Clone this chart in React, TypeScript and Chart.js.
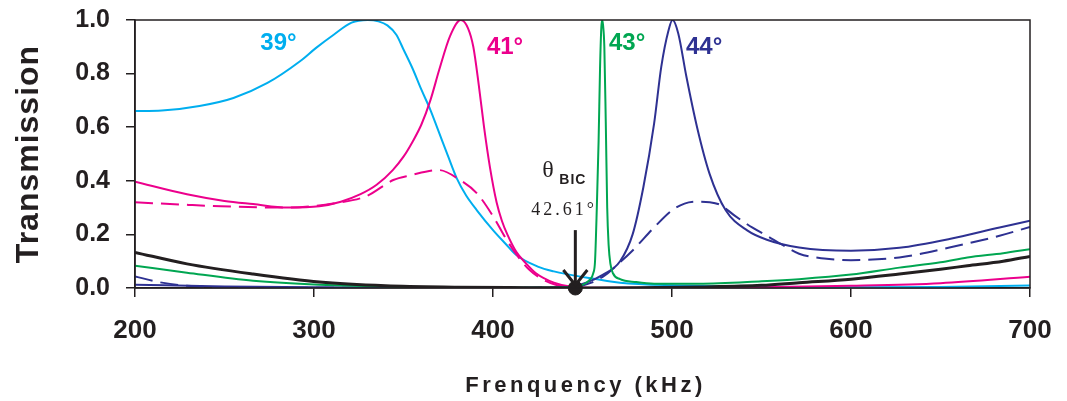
import React, { useEffect, useRef } from 'react';
import { Chart, registerables } from 'chart.js';

Chart.register(...registerables);

// ---- Data (frequency in kHz, transmission) ----
const FREQ_39 = [200, 215, 236, 255, 274, 292, 301, 311, 321, 330, 336, 341, 346, 350, 355, 360, 365, 369.3, 375, 379.7, 385, 391, 400, 407, 413, 425, 434, 452, 471, 500, 550, 600, 650, 700];
const T_39 = [0.66, 0.662, 0.679, 0.709, 0.765, 0.845, 0.895, 0.945, 0.99, 1.0, 0.995, 0.98, 0.945, 0.89, 0.82, 0.74, 0.665, 0.59, 0.49, 0.41, 0.345, 0.29, 0.216, 0.165, 0.123, 0.08, 0.062, 0.039, 0.02, 0.01, 0.005, 0.003, 0.004, 0.009];

const FREQ_41 = [200, 229, 250, 266, 285, 303, 315, 326, 335, 344, 350, 355, 360, 365, 370, 376, 382, 386, 389, 392, 395, 398.3, 402, 405, 408, 413, 418, 424, 434, 443, 460, 500, 550, 600, 650, 700];
const T_41 = [0.397, 0.35, 0.325, 0.313, 0.3, 0.305, 0.322, 0.35, 0.385, 0.44, 0.49, 0.545, 0.61, 0.7, 0.815, 0.94, 1.0, 0.97, 0.9, 0.76, 0.6, 0.45, 0.32, 0.25, 0.2, 0.135, 0.095, 0.055, 0.02, 0.006, 0.001, 0.001, 0.003, 0.008, 0.018, 0.042];

const FREQ_41_DASH = [200, 230, 248, 285, 313, 329.4, 344.3, 353.6, 369.8, 381.6, 390.9, 400.2, 407.7, 414, 420, 427, 435, 445];
const T_41_DASH = [0.32, 0.31, 0.305, 0.3, 0.318, 0.343, 0.403, 0.42, 0.44, 0.403, 0.354, 0.266, 0.179, 0.117, 0.07, 0.035, 0.012, 0.003];

const FREQ_43 = [200, 229, 266, 303, 350, 400, 440, 450, 454, 456, 457, 458, 459, 459.8, 460.5, 461, 461.5, 462.2, 463, 463.8, 464.6, 465.6, 467, 471, 480, 490, 515, 550, 571, 600, 627, 650, 665, 685, 700];
const T_43 = [0.083, 0.057, 0.027, 0.012, 0.004, 0.001, 0.002, 0.012, 0.03, 0.055, 0.1, 0.3, 0.55, 0.82, 0.97, 1.0, 0.98, 0.9, 0.62, 0.3, 0.16, 0.09, 0.055, 0.033, 0.022, 0.016, 0.016, 0.025, 0.033, 0.05, 0.076, 0.096, 0.114, 0.13, 0.145];

const FREQ_44 = [200, 250, 300, 350, 400, 440, 452, 461.5, 471, 478, 484, 490, 494, 498, 500.3, 503.5, 508, 514, 521, 530, 542, 553, 571, 600, 627, 655, 683, 700];
const T_44 = [0.012, 0.006, 0.003, 0.002, 0.001, 0.003, 0.02, 0.05, 0.1, 0.2, 0.376, 0.613, 0.825, 0.96, 1.0, 0.95, 0.79, 0.6, 0.426, 0.29, 0.215, 0.18, 0.151, 0.139, 0.15, 0.183, 0.226, 0.251];

const FREQ_44_DASH = [200, 215, 229, 260, 300, 400, 445, 455, 463, 470, 478, 490, 500, 507, 514, 521, 527, 535, 545, 553, 562, 571, 585, 600, 627, 655, 683, 700];
const T_44_DASH = [0.043, 0.02, 0.008, 0.002, 0.001, 0.001, 0.004, 0.02, 0.05, 0.09, 0.14, 0.226, 0.29, 0.315, 0.322, 0.32, 0.31, 0.27, 0.225, 0.195, 0.16, 0.128, 0.11, 0.104, 0.114, 0.151, 0.195, 0.228];

const FREQ_BIC_CURVE = [200, 229, 266, 303, 340, 380, 420, 446, 480, 515, 550, 571, 600, 627, 650, 665, 685, 700];
const T_BIC_CURVE = [0.133, 0.09, 0.052, 0.022, 0.008, 0.003, 0.001, 0.0, 0.001, 0.004, 0.01, 0.02, 0.033, 0.052, 0.07, 0.083, 0.1, 0.118];

const BIC_FREQ = [446];
const BIC_T = [0];

const ANGLE_TEXT = ['39°', '41°', '43°', '44°'];
const ANGLE_FREQ = [270, 396.6, 464.8, 507.8];
const ANGLE_T = [0.912, 0.899, 0.912, 0.899];

const X_MIN = 200, X_MAX = 700, X_STEP = 100;
const Y_MIN = 0, Y_MAX = 1.0, Y_STEP = 0.2;

const CYAN = '#00AEEF';
const MAGENTA = '#EC008C';
const GREEN = '#00A651';
const NAVY = '#2E3192';
const BLACK = '#231F20';

const SANS = "'Liberation Sans', Arial, Helvetica, sans-serif";
const SERIF = "'Liberation Serif', 'Times New Roman', serif";

const pts = (xs: number[], ys: number[]) => xs.map((x, i) => ({ x, y: ys[i] }));

const line = (label: string, xs: number[], ys: number[], color: string, width: number, dash: number[] = []) => ({
  label,
  data: pts(xs, ys),
  borderColor: color,
  backgroundColor: color,
  borderWidth: width,
  borderDash: dash,
  pointRadius: 0,
  fill: false,
  cubicInterpolationMode: 'monotone' as const,
});

const decorPlugin = {
  id: 'decor',
  afterDatasetsDraw(chart: any) {
    const { ctx, chartArea: a, scales } = chart;
    const xs = scales.x, ys = scales.y;
    ctx.save();
    ctx.strokeStyle = BLACK;
    ctx.lineWidth = 1.5;
    ctx.strokeRect(a.left, a.top, a.right - a.left, a.bottom - a.top);

    ctx.font = `bold 24px ${SANS}`;
    ctx.textAlign = 'left';
    ctx.textBaseline = 'middle';
    const colors = [CYAN, MAGENTA, GREEN, NAVY];
    ANGLE_TEXT.forEach((t, i) => {
      ctx.fillStyle = colors[i];
      ctx.fillText(t, xs.getPixelForValue(ANGLE_FREQ[i]), ys.getPixelForValue(ANGLE_T[i]));
    });

    const bx = xs.getPixelForValue(BIC_FREQ[0]);
    ctx.fillStyle = BLACK;
    ctx.textBaseline = 'alphabetic';
    ctx.font = `24px ${SERIF}`;
    ctx.fillText('θ', bx - 33, ys.getPixelForValue(0.414));
    ctx.font = `bold 14px ${SANS}`;
    (ctx as any).letterSpacing = '1px';
    ctx.fillText('BIC', bx - 16, ys.getPixelForValue(0.388));
    ctx.font = `18px ${SERIF}`;
    (ctx as any).letterSpacing = '3px';
    ctx.fillText('42.61°', bx - 44, ys.getPixelForValue(0.272));
    (ctx as any).letterSpacing = '0px';

    const yTop = ys.getPixelForValue(0.216);
    const yTip = ys.getPixelForValue(0.011);
    ctx.strokeStyle = BLACK;
    ctx.lineWidth = 3;
    ctx.beginPath();
    ctx.moveTo(bx, yTop);
    ctx.lineTo(bx, yTip);
    ctx.stroke();
    ctx.beginPath();
    ctx.moveTo(bx - 12, yTip - 15);
    ctx.lineTo(bx, yTip);
    ctx.lineTo(bx + 12, yTip - 15);
    ctx.stroke();
    ctx.restore();
  },
  afterDraw(chart: any) {
    const { ctx, chartArea: a } = chart;
    ctx.save();
    ctx.fillStyle = BLACK;
    ctx.translate(29, (a.top + a.bottom) / 2);
    ctx.rotate(-Math.PI / 2);
    ctx.font = `bold 32px ${SANS}`;
    (ctx as any).letterSpacing = '1px';
    ctx.textAlign = 'center';
    ctx.textBaseline = 'middle';
    ctx.fillText('Transmission', 0, 0);
    ctx.restore();
    ctx.save();
    ctx.fillStyle = BLACK;
    ctx.font = `bold 22px ${SANS}`;
    (ctx as any).letterSpacing = '3.5px';
    ctx.textAlign = 'center';
    ctx.textBaseline = 'alphabetic';
    ctx.fillText('Frenquency (kHz)', (a.left + a.right) / 2 + 3, 392);
    ctx.restore();
  },
};

export default function App() {
  const ref = useRef<HTMLCanvasElement | null>(null);
  useEffect(() => {
    document.body.style.margin = '0';
    const canvas = ref.current;
    if (!canvas) return;
    const chart = new Chart(canvas, {
      type: 'line',
      data: {
        datasets: [
          {
            type: 'scatter',
            label: 'BIC',
            data: pts(BIC_FREQ, BIC_T),
            pointRadius: 7,
            pointBackgroundColor: BLACK,
            pointBorderColor: BLACK,
            clip: false,
          } as any,
          line('BIC curve', FREQ_BIC_CURVE, T_BIC_CURVE, BLACK, 3),
          line('43°', FREQ_43, T_43, GREEN, 2),
          line('44°', FREQ_44, T_44, NAVY, 2),
          line('44° dashed', FREQ_44_DASH, T_44_DASH, NAVY, 2, [18, 8]),
          line('41°', FREQ_41, T_41, MAGENTA, 2),
          line('41° dashed', FREQ_41_DASH, T_41_DASH, MAGENTA, 2, [18, 8]),
          line('39°', FREQ_39, T_39, CYAN, 2),
        ],
      },
      options: {
        animation: false,
        responsive: false,
        maintainAspectRatio: false,
        layout: { padding: { top: 20, right: 37, left: 0, bottom: 0 } },
        plugins: { legend: { display: false }, tooltip: { enabled: false } },
        scales: {
          x: {
            type: 'linear',
            min: X_MIN,
            max: X_MAX,
            ticks: {
              stepSize: X_STEP,
              color: BLACK,
              font: { family: SANS, size: 26, weight: 'bold' },
              padding: 18,
              maxRotation: 0,
            },
            grid: { drawOnChartArea: false, drawTicks: true, tickLength: 9, color: BLACK, lineWidth: 1.5 },
            border: { display: true, color: BLACK, width: 1.5 },
            afterFit: (s: any) => { s.height = 113; s.paddingLeft = 0; s.paddingRight = 0; },
          },
          y: {
            type: 'linear',
            min: Y_MIN,
            max: Y_MAX,
            ticks: {
              stepSize: Y_STEP,
              color: BLACK,
              font: { family: SANS, size: 25, weight: 'bold' },
              padding: 16,
              callback: (v: any) => Number(v).toFixed(1),
            },
            grid: { drawOnChartArea: false, drawTicks: true, tickLength: 9, color: BLACK, lineWidth: 1.5 },
            border: { display: true, color: BLACK, width: 1.5 },
            afterFit: (s: any) => { s.width = 135; s.paddingTop = 0; s.paddingBottom = 0; },
          },
        },
      } as any,
      plugins: [decorPlugin],
    });
    return () => chart.destroy();
  }, []);
  return <canvas ref={ref} width={1067} height={401} style={{ display: 'block' }} />;
}
